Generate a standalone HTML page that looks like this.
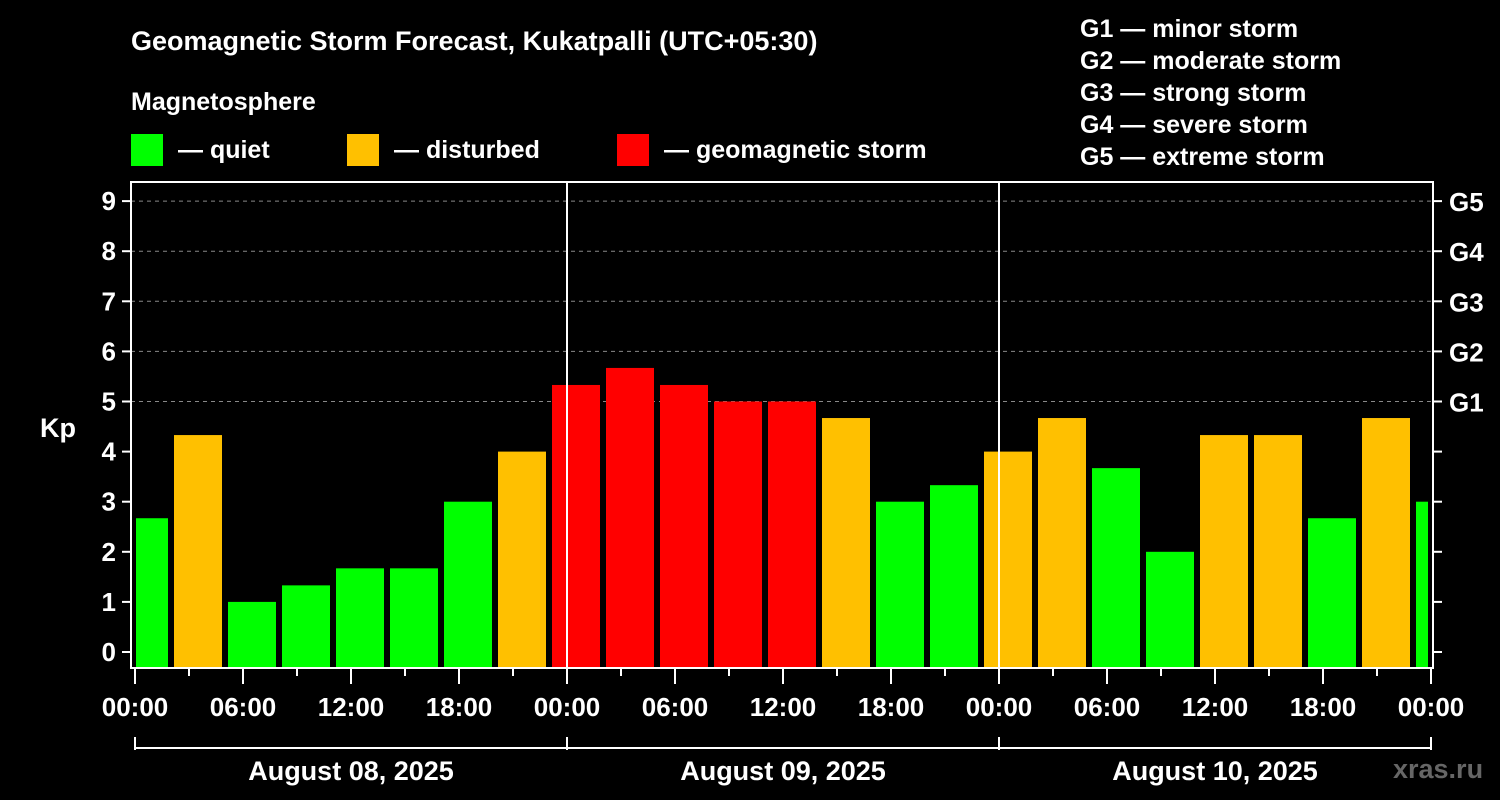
<!DOCTYPE html>
<html><head><meta charset="utf-8"><style>
html,body{margin:0;padding:0;background:#000;}
svg{display:block;font-family:"Liberation Sans",sans-serif;font-weight:bold;}
</style></head><body>
<svg id="chart" width="1500" height="800" viewBox="0 0 1500 800">
<rect x="0" y="0" width="1500" height="800" fill="#000"/>
<text x="131" y="50" fill="#fff" font-size="27">Geomagnetic Storm Forecast, Kukatpalli (UTC+05:30)</text>
<text x="131" y="110" fill="#fff" font-size="25">Magnetosphere</text>
<rect x="131" y="134" width="32" height="32" fill="#00ff00"/>
<text x="178" y="158" fill="#fff" font-size="25">— quiet</text>
<rect x="347" y="134" width="32" height="32" fill="#ffc000"/>
<text x="394" y="158" fill="#fff" font-size="25">— disturbed</text>
<rect x="617" y="134" width="32" height="32" fill="#ff0000"/>
<text x="664" y="158" fill="#fff" font-size="25">— geomagnetic storm</text>
<g font-size="25" fill="#fff">
<text x="1080" y="37">G1 — minor storm</text>
<text x="1080" y="69">G2 — moderate storm</text>
<text x="1080" y="101">G3 — strong storm</text>
<text x="1080" y="133">G4 — severe storm</text>
<text x="1080" y="165">G5 — extreme storm</text>
</g>
<text x="40" y="437" fill="#fff" font-size="27">Kp</text>
<text x="1393" y="778" fill="#666" font-size="27">xras.ru</text>
<defs><clipPath id="pc"><rect x="136" y="183" width="1292" height="485"/></clipPath></defs>
<g id="grid"></g>
<g id="bars" clip-path="url(#pc)"></g>
<g id="axes"></g>
</svg>
<script>
const kpValues=[2.67,4.33,1,1.33,1.67,1.67,3,4,5.33,5.67,5.33,5,5,4.67,3,3.33,4,4.67,3.67,2,4.33,4.33,2.67,4.67,3];
const barHours=[0.5,3.5,6.5,9.5,12.5,15.5,18.5,21.5,24.5,27.5,30.5,33.5,36.5,39.5,42.5,45.5,48.5,51.5,54.5,57.5,60.5,63.5,66.5,69.5,72.5];
const yTicks=[0,1,2,3,4,5,6,7,8,9];
const gLabels=["G1","G2","G3","G4","G5"];
const xTickLabels=["00:00","06:00","12:00","18:00","00:00","06:00","12:00","18:00","00:00","06:00","12:00","18:00","00:00"];
const dayLabels=["August 08, 2025","August 09, 2025","August 10, 2025"];
const NS="http://www.w3.org/2000/svg";
const X=h=>135+h*18;
const Y=v=>652-v*50.1;
const mk=(t,a,p)=>{const e=document.createElementNS(NS,t);for(const k in a)e.setAttribute(k,a[k]);p.appendChild(e);return e;};
const grid=document.getElementById('grid'),bars=document.getElementById('bars'),axes=document.getElementById('axes');
for(let v=5;v<=9;v++){const l=mk('line',{x1:131,x2:1433,y1:Y(v),y2:Y(v),stroke:'#888','stroke-dasharray':'4,4','stroke-width':1},grid);

}
const col=v=>v>=5?'#ff0000':(v>=4?'#ffc000':'#00ff00');
kpValues.forEach((v,i)=>{const c=X(barHours[i]);const r=mk('rect',{x:c-24,y:Y(v),width:48,height:668-Y(v),fill:col(v)},bars);

});
// day separators
[1,2].forEach(d=>{const l=mk('line',{x1:X(d*24),x2:X(d*24),y1:182,y2:668,stroke:'#fff','stroke-width':2},axes);

});
const fr=mk('rect',{x:131,y:182,width:1302,height:486,fill:'none',stroke:'#fff','stroke-width':2},axes);


yTicks.forEach(v=>{mk('line',{x1:122,x2:131,y1:Y(v),y2:Y(v),stroke:'#fff','stroke-width':2},axes);
mk('line',{x1:1433,x2:1442,y1:Y(v),y2:Y(v),stroke:'#fff','stroke-width':2},axes);
const t=mk('text',{x:116,y:Y(v)+9,fill:'#fff','font-size':26,'text-anchor':'end'},axes);t.textContent=v;

});
gLabels.forEach((g,i)=>{const t=mk('text',{x:1449,y:Y(5+i)+10,fill:'#fff','font-size':26},axes);t.textContent=g;

});
for(let h=0;h<=72;h+=3){mk('line',{x1:X(h),x2:X(h),y1:669,y2:h%6?676:684,stroke:'#fff','stroke-width':2},axes);}
xTickLabels.forEach((s,i)=>{const t=mk('text',{x:X(i*6),y:716,fill:'#fff','font-size':26,'text-anchor':'middle'},axes);t.textContent=s;

});
mk('line',{x1:X(0),x2:X(72),y1:748,y2:748,stroke:'#fff','stroke-width':2},axes);
for(let d=0;d<=3;d++)mk('line',{x1:X(d*24),x2:X(d*24),y1:737,y2:750,stroke:'#fff','stroke-width':2},axes);
dayLabels.forEach((s,i)=>{const t=mk('text',{x:X(i*24+12),y:780,fill:'#fff','font-size':27,'text-anchor':'middle'},axes);t.textContent=s;

});
</script>
</body></html>
